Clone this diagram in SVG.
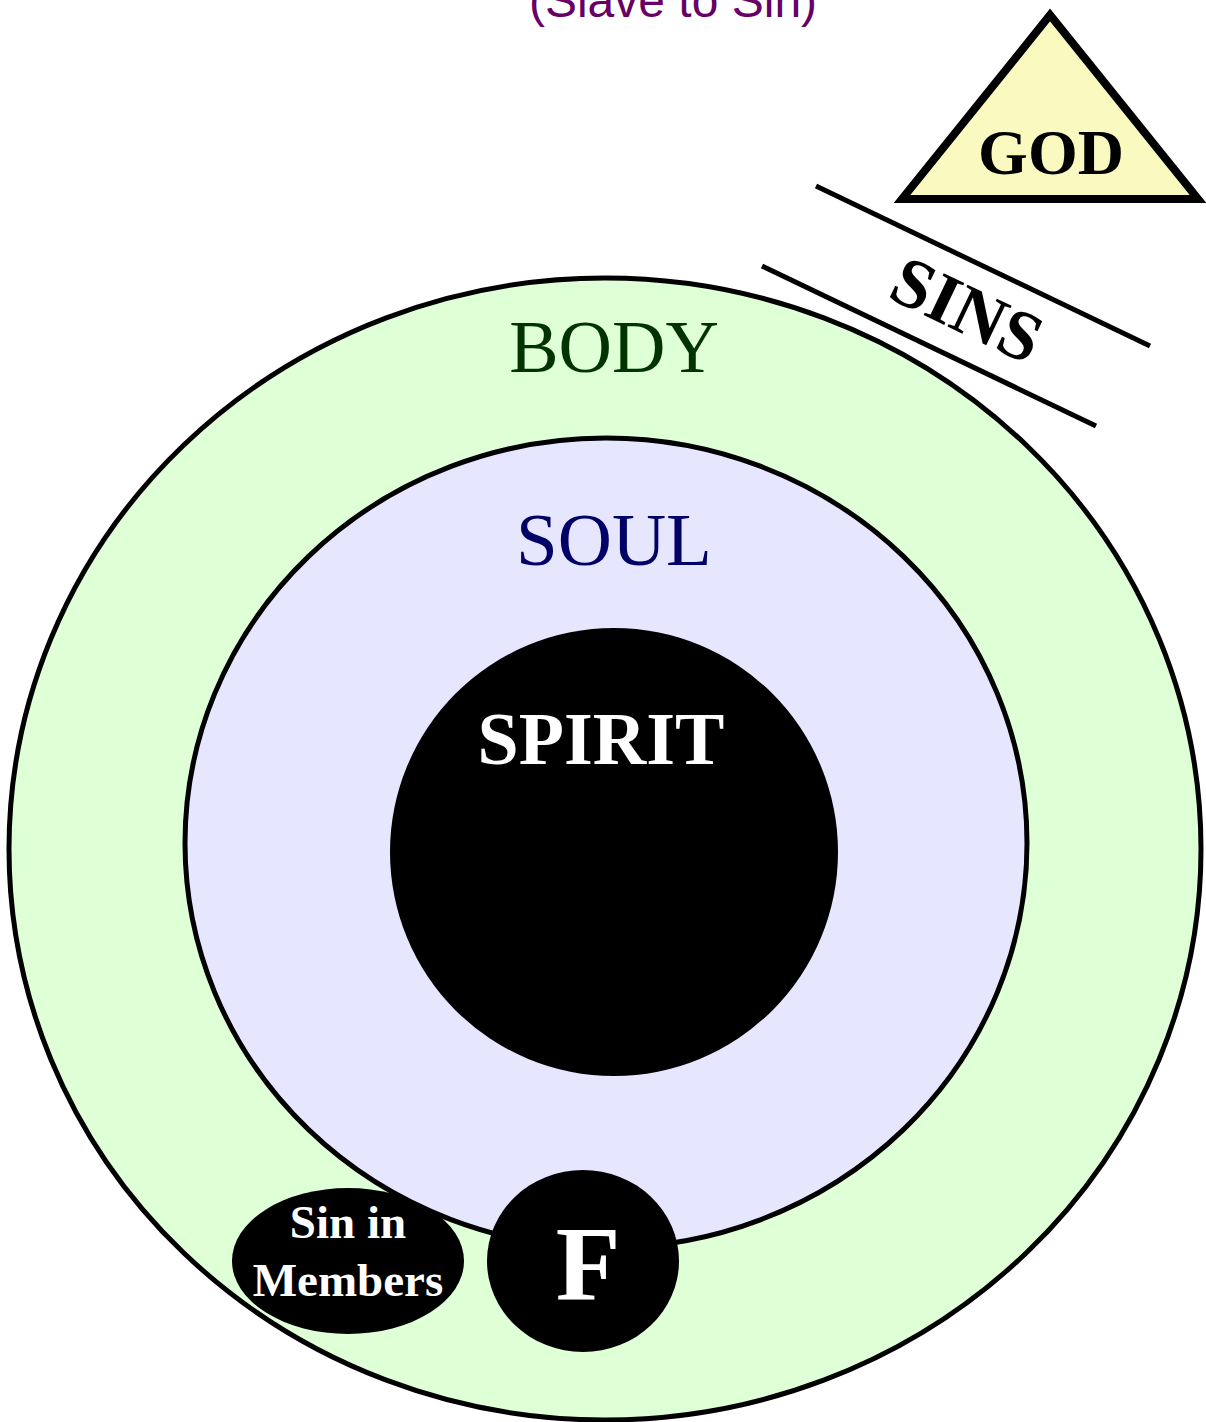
<svg xmlns="http://www.w3.org/2000/svg" width="1206" height="1422" viewBox="0 0 1206 1422">
<style>
.serif{font-family:"Liberation Serif","Times New Roman",serif;text-anchor:middle}
.b{font-weight:bold}
.stk{stroke:#000;stroke-width:5}
</style>
<rect width="1206" height="1422" fill="#fff"/>
<text x="673" y="17" font-family="Liberation Sans, Arial, sans-serif" font-size="48" fill="#660066" text-anchor="middle">(Slave to Sin)</text>
<g id="body">
<ellipse cx="605" cy="849" rx="596" ry="571" fill="#dfffd7" class="stk"/>
<text x="614" y="372" class="serif" font-size="74" fill="#003300">BODY</text>
</g>
<g id="soul">
<ellipse cx="606" cy="843" rx="421" ry="405" fill="#e6e6ff" class="stk"/>
<text x="614" y="565" class="serif" font-size="75" fill="#000066">SOUL</text>
</g>
<g id="spirit">
<circle cx="614" cy="852" r="224" fill="#000"/>
<text x="601" y="764" class="serif b" font-size="74" fill="#fff">SPIRIT</text>
</g>
<g id="sin-members">
<ellipse cx="348" cy="1261" rx="116" ry="73" fill="#000"/>
<text x="348" y="1238" class="serif b" font-size="47" fill="#fff">Sin in</text>
<text x="348" y="1296" class="serif b" font-size="47" fill="#fff">Members</text>
</g>
<g id="f">
<ellipse cx="583" cy="1261" rx="96" ry="91" fill="#000"/>
<text x="588" y="1300" class="serif b" font-size="106" fill="#fff">F</text>
</g>
<g id="god">
<polygon points="1050,15 902,199 1198,199" fill="#fafac0" stroke="#000" stroke-width="8" stroke-linejoin="miter"/>
<text x="1051" y="174" class="serif b" font-size="64" fill="#000">GOD</text>
</g>
<g id="connectors">
<line x1="816" y1="186" x2="1150" y2="346" class="stk"/>
<line x1="762" y1="266" x2="1096" y2="426" class="stk"/>
<text x="0" y="0" class="serif b" font-size="71" fill="#000" transform="translate(957,331) rotate(25.6)">SINS</text>
</g>
</svg>
